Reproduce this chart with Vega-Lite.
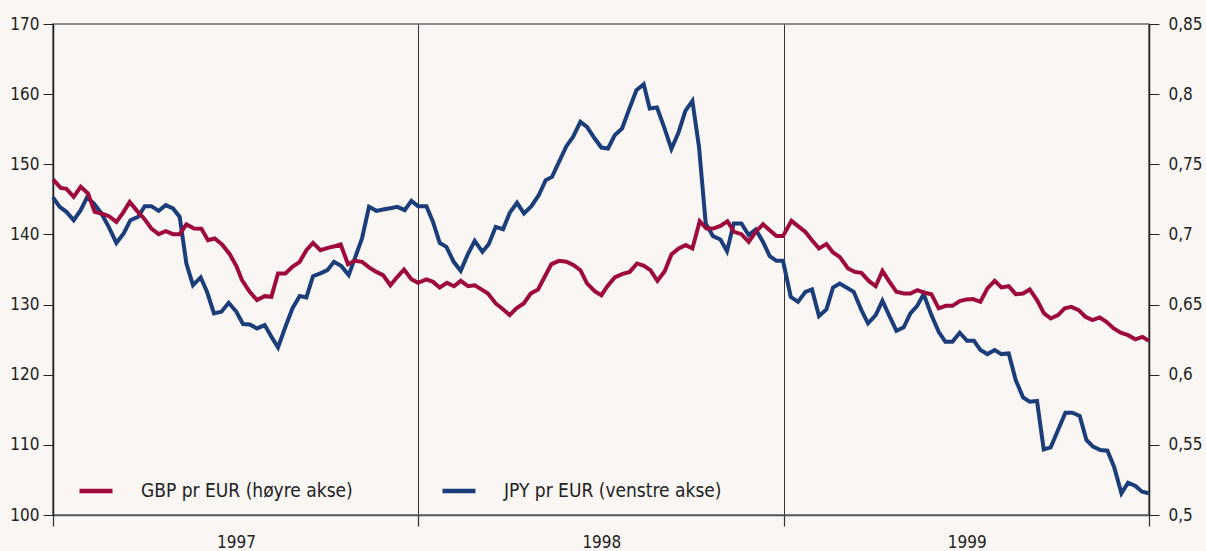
{
"$schema": "https://vega.github.io/schema/vega-lite/v6.json",
"width": 1096, "height": 491,
"autosize": {"type": "none"},
"padding": {"left": 53, "top": 24, "right": 57, "bottom": 36},
"background": "#f9f6f3",
"config": {"view": {"stroke": "#6b6b6b", "strokeWidth": 1.5}, "font": "DejaVu Sans Condensed, Liberation Sans, sans-serif"},
"datasets": {
"jpy": [
{"t":1997.0000,"v":145.27},{"t":1997.0183,"v":143.93},{"t":1997.0367,"v":143.22},{"t":1997.0567,"v":142.03},{"t":1997.0758,"v":143.46},{"t":1997.0931,"v":145.27},{"t":1997.1122,"v":144.41},{"t":1997.1325,"v":142.99},{"t":1997.1525,"v":141.08},{"t":1997.1735,"v":138.80},{"t":1997.1935,"v":140.14},{"t":1997.2119,"v":142.03},{"t":1997.2327,"v":142.50},{"t":1997.2510,"v":144.03},{"t":1997.2693,"v":144.03},{"t":1997.2893,"v":143.36},{"t":1997.3085,"v":144.17},{"t":1997.3285,"v":143.70},{"t":1997.3468,"v":142.50},{"t":1997.3651,"v":135.86},{"t":1997.3832,"v":132.77},{"t":1997.4043,"v":133.87},{"t":1997.4215,"v":131.82},{"t":1997.4407,"v":128.74},{"t":1997.4610,"v":128.97},{"t":1997.4809,"v":130.25},{"t":1997.5020,"v":128.97},{"t":1997.5201,"v":127.22},{"t":1997.5384,"v":127.17},{"t":1997.5584,"v":126.60},{"t":1997.5795,"v":127.07},{"t":1997.5978,"v":125.41},{"t":1997.6159,"v":123.90},{"t":1997.6361,"v":126.83},{"t":1997.6553,"v":129.45},{"t":1997.6753,"v":131.21},{"t":1997.6936,"v":131.02},{"t":1997.7117,"v":134.05},{"t":1997.7319,"v":134.44},{"t":1997.7511,"v":134.91},{"t":1997.7692,"v":136.09},{"t":1997.7894,"v":135.48},{"t":1997.8094,"v":134.20},{"t":1997.8277,"v":136.80},{"t":1997.8458,"v":139.43},{"t":1997.8650,"v":143.93},{"t":1997.8852,"v":143.36},{"t":1997.9033,"v":143.56},{"t":1997.9235,"v":143.74},{"t":1997.9427,"v":143.93},{"t":1997.9627,"v":143.46},{"t":1997.9810,"v":144.78},{"t":1997.9991,"v":144.03},
{"t":1998.0221,"v":144.03},{"t":1998.0402,"v":141.79},{"t":1998.0585,"v":138.80},{"t":1998.0768,"v":138.23},{"t":1998.0968,"v":136.09},{"t":1998.1160,"v":134.81},{"t":1998.1343,"v":137.05},{"t":1998.1543,"v":139.08},{"t":1998.1754,"v":137.52},{"t":1998.1926,"v":138.61},{"t":1998.2118,"v":141.08},{"t":1998.2318,"v":140.75},{"t":1998.2501,"v":143.07},{"t":1998.2701,"v":144.50},{"t":1998.2892,"v":142.99},{"t":1998.3095,"v":144.03},{"t":1998.3295,"v":145.59},{"t":1998.3486,"v":147.73},{"t":1998.3659,"v":148.20},{"t":1998.3851,"v":150.34},{"t":1998.4053,"v":152.58},{"t":1998.4234,"v":153.90},{"t":1998.4436,"v":156.04},{"t":1998.4617,"v":155.33},{"t":1998.4828,"v":153.67},{"t":1998.5011,"v":152.39},{"t":1998.5192,"v":152.25},{"t":1998.5375,"v":154.14},{"t":1998.5575,"v":155.10},{"t":1998.5767,"v":157.80},{"t":1998.5969,"v":160.55},{"t":1998.6169,"v":161.41},{"t":1998.6333,"v":157.95},{"t":1998.6533,"v":158.09},{"t":1998.6725,"v":155.33},{"t":1998.6927,"v":152.19},{"t":1998.7127,"v":154.61},{"t":1998.7310,"v":157.60},{"t":1998.7502,"v":159.03},{"t":1998.7683,"v":152.48},{"t":1998.7866,"v":141.56},{"t":1998.8066,"v":139.75},{"t":1998.8269,"v":139.28},{"t":1998.8449,"v":137.62},{"t":1998.8633,"v":141.56},{"t":1998.8843,"v":141.56},{"t":1998.9043,"v":139.90},{"t":1998.9235,"v":140.71},{"t":1998.9435,"v":138.94},{"t":1998.9618,"v":136.90},{"t":1998.9801,"v":136.23},{"t":1998.9982,"v":136.23},
{"t":1999.0193,"v":131.11},{"t":1999.0393,"v":130.39},{"t":1999.0595,"v":131.82},{"t":1999.0776,"v":132.16},{"t":1999.0967,"v":128.36},{"t":1999.1170,"v":129.31},{"t":1999.1351,"v":132.44},{"t":1999.1534,"v":133.01},{"t":1999.1718,"v":132.44},{"t":1999.1917,"v":131.82},{"t":1999.2128,"v":129.21},{"t":1999.2309,"v":127.32},{"t":1999.2519,"v":128.50},{"t":1999.2703,"v":130.54},{"t":1999.2884,"v":128.50},{"t":1999.3086,"v":126.26},{"t":1999.3286,"v":126.75},{"t":1999.3469,"v":128.74},{"t":1999.3650,"v":129.78},{"t":1999.3833,"v":131.49},{"t":1999.4044,"v":128.50},{"t":1999.4244,"v":126.12},{"t":1999.4427,"v":124.69},{"t":1999.4619,"v":124.69},{"t":1999.4819,"v":125.98},{"t":1999.5019,"v":124.84},{"t":1999.5210,"v":124.84},{"t":1999.5386,"v":123.51},{"t":1999.5577,"v":122.94},{"t":1999.5777,"v":123.51},{"t":1999.5960,"v":122.94},{"t":1999.6160,"v":123.04},{"t":1999.6352,"v":119.24},{"t":1999.6552,"v":116.77},{"t":1999.6735,"v":116.15},{"t":1999.6935,"v":116.25},{"t":1999.7118,"v":109.36},{"t":1999.7310,"v":109.65},{"t":1999.7510,"v":112.11},{"t":1999.7712,"v":114.58},{"t":1999.7903,"v":114.58},{"t":1999.8104,"v":114.11},{"t":1999.8287,"v":110.69},{"t":1999.8468,"v":109.74},{"t":1999.8670,"v":109.26},{"t":1999.8862,"v":109.17},{"t":1999.9043,"v":106.89},{"t":1999.9245,"v":103.10},{"t":1999.9426,"v":104.61},{"t":1999.9628,"v":104.14},{"t":1999.9809,"v":103.32},{"t":1999.9992,"v":103.10}
],
"gbp": [
{"t":1997.0000,"v":0.7392},{"t":1997.0211,"v":0.7332},{"t":1997.0367,"v":0.7325},{"t":1997.0567,"v":0.7268},{"t":1997.0758,"v":0.7339},{"t":1997.0958,"v":0.7292},{"t":1997.1141,"v":0.7161},{"t":1997.1325,"v":0.7149},{"t":1997.1533,"v":0.7130},{"t":1997.1735,"v":0.7089},{"t":1997.1916,"v":0.7154},{"t":1997.2099,"v":0.7232},{"t":1997.2299,"v":0.7168},{"t":1997.2491,"v":0.7114},{"t":1997.2693,"v":0.7042},{"t":1997.2893,"v":0.7002},{"t":1997.3085,"v":0.7023},{"t":1997.3285,"v":0.7002},{"t":1997.3468,"v":0.7002},{"t":1997.3651,"v":0.7071},{"t":1997.3860,"v":0.7042},{"t":1997.4062,"v":0.7040},{"t":1997.4243,"v":0.6959},{"t":1997.4426,"v":0.6971},{"t":1997.4626,"v":0.6928},{"t":1997.4837,"v":0.6859},{"t":1997.5020,"v":0.6774},{"t":1997.5173,"v":0.6674},{"t":1997.5384,"v":0.6591},{"t":1997.5584,"v":0.6532},{"t":1997.5795,"v":0.6560},{"t":1997.5978,"v":0.6555},{"t":1997.6159,"v":0.6722},{"t":1997.6361,"v":0.6722},{"t":1997.6553,"v":0.6769},{"t":1997.6753,"v":0.6805},{"t":1997.6936,"v":0.6888},{"t":1997.7117,"v":0.6940},{"t":1997.7319,"v":0.6888},{"t":1997.7527,"v":0.6904},{"t":1997.7711,"v":0.6916},{"t":1997.7875,"v":0.6928},{"t":1997.8075,"v":0.6788},{"t":1997.8258,"v":0.6812},{"t":1997.8458,"v":0.6805},{"t":1997.8650,"v":0.6765},{"t":1997.8852,"v":0.6733},{"t":1997.9033,"v":0.6710},{"t":1997.9235,"v":0.6638},{"t":1997.9427,"v":0.6698},{"t":1997.9608,"v":0.6750},{"t":1997.9810,"v":0.6681},{"t":1997.9991,"v":0.6655},
{"t":1998.0221,"v":0.6679},{"t":1998.0402,"v":0.6662},{"t":1998.0585,"v":0.6622},{"t":1998.0785,"v":0.6655},{"t":1998.0976,"v":0.6631},{"t":1998.1160,"v":0.6669},{"t":1998.1360,"v":0.6631},{"t":1998.1543,"v":0.6638},{"t":1998.1726,"v":0.6608},{"t":1998.1907,"v":0.6579},{"t":1998.2118,"v":0.6508},{"t":1998.2301,"v":0.6470},{"t":1998.2501,"v":0.6425},{"t":1998.2685,"v":0.6473},{"t":1998.2884,"v":0.6508},{"t":1998.3076,"v":0.6579},{"t":1998.3276,"v":0.6608},{"t":1998.3459,"v":0.6698},{"t":1998.3643,"v":0.6788},{"t":1998.3851,"v":0.6812},{"t":1998.4053,"v":0.6805},{"t":1998.4253,"v":0.6781},{"t":1998.4436,"v":0.6745},{"t":1998.4617,"v":0.6651},{"t":1998.4828,"v":0.6596},{"t":1998.5011,"v":0.6567},{"t":1998.5175,"v":0.6631},{"t":1998.5375,"v":0.6693},{"t":1998.5575,"v":0.6717},{"t":1998.5786,"v":0.6733},{"t":1998.5986,"v":0.6793},{"t":1998.6177,"v":0.6776},{"t":1998.6352,"v":0.6745},{"t":1998.6544,"v":0.6669},{"t":1998.6744,"v":0.6738},{"t":1998.6927,"v":0.6857},{"t":1998.7127,"v":0.6900},{"t":1998.7319,"v":0.6924},{"t":1998.7502,"v":0.6900},{"t":1998.7702,"v":0.7094},{"t":1998.7885,"v":0.7042},{"t":1998.8066,"v":0.7042},{"t":1998.8269,"v":0.7061},{"t":1998.8460,"v":0.7094},{"t":1998.8641,"v":0.7018},{"t":1998.8843,"v":0.7002},{"t":1998.9043,"v":0.6947},{"t":1998.9235,"v":0.7018},{"t":1998.9435,"v":0.7073},{"t":1998.9618,"v":0.7030},{"t":1998.9801,"v":0.6988},{"t":1998.9982,"v":0.6988},
{"t":1999.0212,"v":0.7097},{"t":1999.0393,"v":0.7059},{"t":1999.0595,"v":0.7018},{"t":1999.0776,"v":0.6959},{"t":1999.0967,"v":0.6900},{"t":1999.1170,"v":0.6931},{"t":1999.1351,"v":0.6871},{"t":1999.1534,"v":0.6840},{"t":1999.1761,"v":0.6757},{"t":1999.1944,"v":0.6733},{"t":1999.2128,"v":0.6726},{"t":1999.2336,"v":0.6667},{"t":1999.2519,"v":0.6631},{"t":1999.2703,"v":0.6740},{"t":1999.2884,"v":0.6667},{"t":1999.3086,"v":0.6591},{"t":1999.3286,"v":0.6579},{"t":1999.3469,"v":0.6579},{"t":1999.3661,"v":0.6603},{"t":1999.3861,"v":0.6584},{"t":1999.4044,"v":0.6574},{"t":1999.4244,"v":0.6473},{"t":1999.4435,"v":0.6491},{"t":1999.4619,"v":0.6491},{"t":1999.4819,"v":0.6525},{"t":1999.5002,"v":0.6537},{"t":1999.5183,"v":0.6539},{"t":1999.5386,"v":0.6520},{"t":1999.5577,"v":0.6615},{"t":1999.5777,"v":0.6669},{"t":1999.5960,"v":0.6622},{"t":1999.6160,"v":0.6631},{"t":1999.6352,"v":0.6574},{"t":1999.6552,"v":0.6579},{"t":1999.6735,"v":0.6608},{"t":1999.6935,"v":0.6532},{"t":1999.7126,"v":0.6437},{"t":1999.7310,"v":0.6401},{"t":1999.7510,"v":0.6425},{"t":1999.7693,"v":0.6473},{"t":1999.7876,"v":0.6484},{"t":1999.8076,"v":0.6460},{"t":1999.8259,"v":0.6413},{"t":1999.8451,"v":0.6389},{"t":1999.8651,"v":0.6408},{"t":1999.8834,"v":0.6377},{"t":1999.9034,"v":0.6330},{"t":1999.9226,"v":0.6299},{"t":1999.9426,"v":0.6282},{"t":1999.9628,"v":0.6252},{"t":1999.9820,"v":0.6270},{"t":1999.9992,"v":0.6242}
]
},
"encoding": {
  "x": {"field": "t", "type": "quantitative",
    "scale": {"domain": [1997, 2000], "nice": false, "zero": false},
    "axis": {"values": [1997, 1998, 1999, 2000], "title": null, "grid": true, "gridColor": "#333333", "gridWidth": 1,
      "tickSize": 11, "tickColor": "#333333", "tickWidth": 1.2, "domainColor": "#555555", "domainWidth": 1.5,
      "labelExpr": "datum.value < 2000 ? toString(datum.value) : ''", "labelOffset": 183, "labelPadding": 8,
      "labelFontSize": 17, "labelColor": "#222222", "labelFlush": false, "labelOverlap": false}}
},
"layer": [
  {"data": {"name": "jpy"},
   "mark": {"type": "line", "strokeWidth": 4},
   "encoding": {
     "y": {"field": "v", "type": "quantitative",
       "scale": {"domain": [100, 170], "nice": false, "zero": false},
       "axis": {"orient": "left", "values": [100, 110, 120, 130, 140, 150, 160, 170], "title": null, "grid": false,
         "tickSize": 10, "tickColor": "#222222", "domainColor": "#222222", "domainWidth": 1.5,
         "labelPadding": 4, "labelFontSize": 17, "labelColor": "#222222", "labelFlush": false, "labelOverlap": false}},
     "color": {"datum": "JPY pr EUR (venstre akse)", "type": "nominal",
       "scale": {"domain": ["GBP pr EUR (høyre akse)", "JPY pr EUR (venstre akse)"], "range": ["#9e0a3c", "#1b3d7a"]},
       "legend": {"orient": "none", "legendX": 24, "legendY": 448, "direction": "horizontal", "title": null,
         "symbolType": "stroke", "symbolSize": 1089, "symbolStrokeWidth": 4.5, "labelFontSize": 19,
         "labelOffset": 26, "columnPadding": 80, "labelLimit": 400, "padding": 0, "labelColor": "#222222"}}
   }},
  {"data": {"name": "gbp"},
   "mark": {"type": "line", "strokeWidth": 4},
   "encoding": {
     "y": {"field": "v", "type": "quantitative",
       "scale": {"domain": [0.5, 0.85], "nice": false, "zero": false},
       "axis": {"orient": "right", "values": [0.5, 0.55, 0.6, 0.65, 0.7, 0.75, 0.8, 0.85], "title": null, "grid": false,
         "tickSize": 10, "tickColor": "#222222", "domainColor": "#222222", "domainWidth": 1.5,
         "labelExpr": "replace(toString(datum.value), '.', ',')",
         "labelPadding": 9, "labelFontSize": 17, "labelColor": "#222222", "labelFlush": false, "labelOverlap": false}},
     "color": {"datum": "GBP pr EUR (høyre akse)", "type": "nominal"}
   }}
],
"resolve": {"scale": {"y": "independent"}}
}
